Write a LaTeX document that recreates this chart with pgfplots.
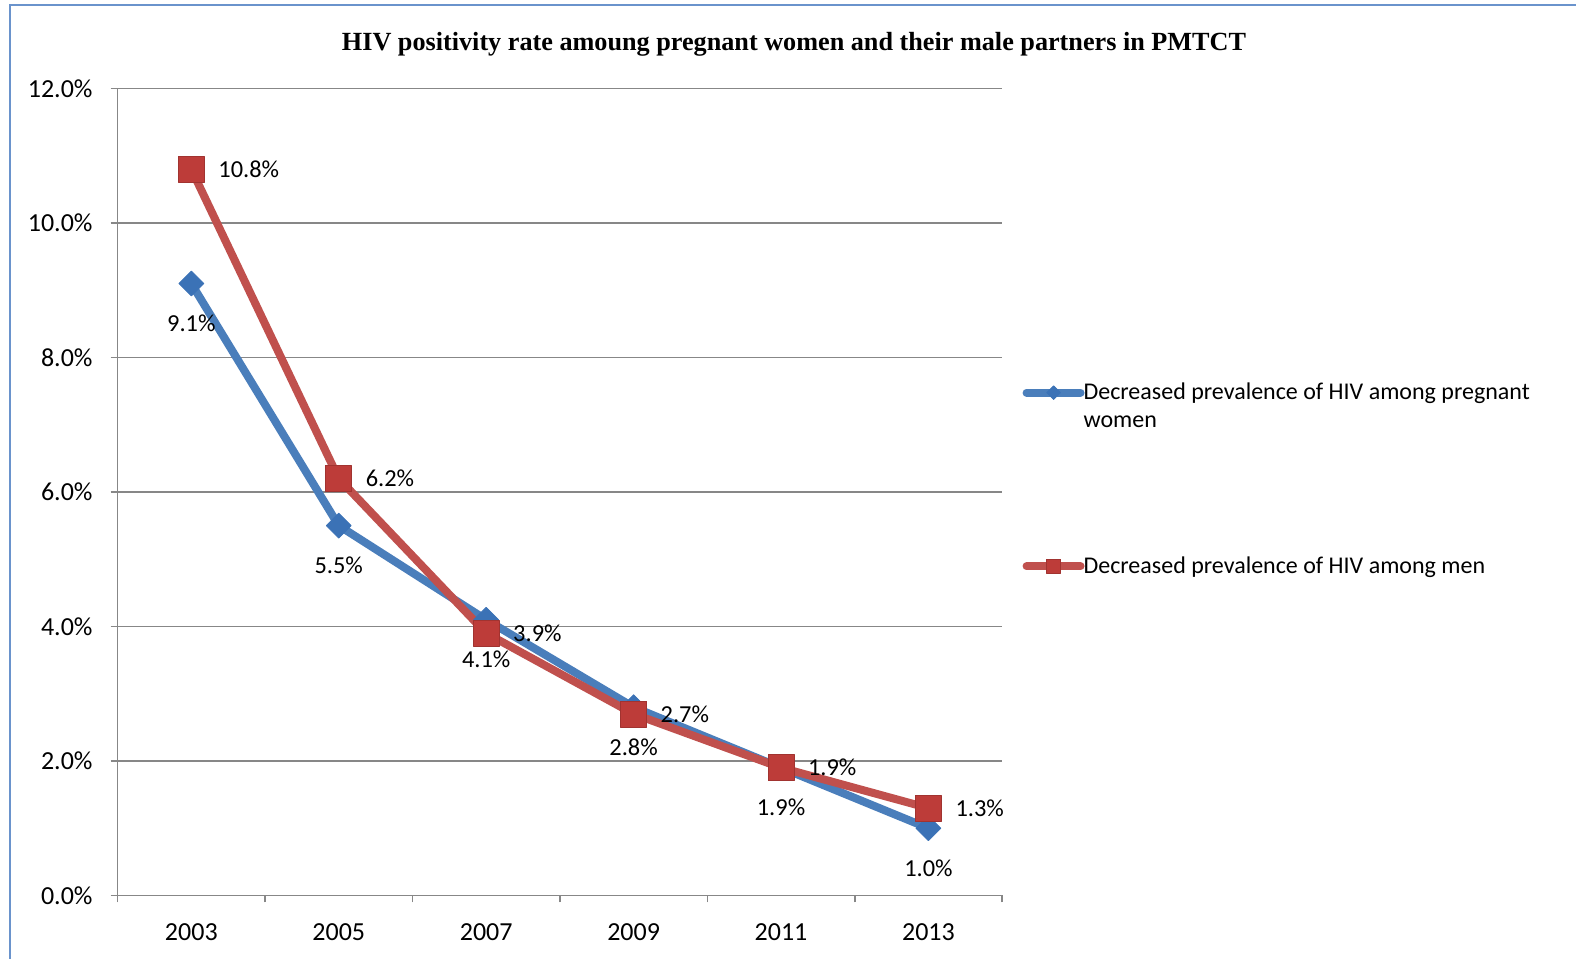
\documentclass[border=0pt]{standalone}
\usepackage{pgfplots}
\pgfplotsset{compat=1.18}
\usepackage{fontspec}
\setmainfont{Carlito}
\newfontfamily\titlefont{Liberation Serif}
\definecolor{frameblue}{HTML}{6A93CC}
\definecolor{lblue}{HTML}{4A7EBB}
\definecolor{mblue}{HTML}{3B72B6}
\definecolor{lred}{HTML}{C0504D}
\definecolor{mred}{HTML}{BD3C39}
\definecolor{axgray}{HTML}{878787}
\pgfplotsset{/pgf/number format/assume math mode=true}
\begin{document}
\begin{tikzpicture}[x=1pt,y=1pt]
\path[use as bounding box] (0,0) rectangle (788,479.5);
\draw[color=frameblue, line width=1.3pt] (5,0) -- (5,477) -- (788,477);
\node[font=\titlefont\bfseries\fontsize{13.1}{15}\selectfont] at (397,457.5) {HIV positivity rate amoung pregnant women and their male partners in PMTCT};
\begin{axis}[
  at={(58.8pt,31.75pt)}, anchor=south west,
  scale only axis, width=442.3pt, height=403.5pt,
  xmin=-0.5, xmax=5.5, ymin=0, ymax=12,
  clip=false,
  axis x line*=bottom, axis y line*=left,
  axis line style={draw=axgray, line width=0.8pt, -},
  tick style={draw=axgray, line width=0.8pt},
  tick align=outside, major tick length=3.5pt,
  xtick={-0.5,0.5,1.5,2.5,3.5,4.5,5.5}, xticklabels={},
  extra x ticks={0,1,2,3,4,5},
  extra x tick labels={2003,2005,2007,2009,2011,2013},
  extra x tick style={tick style={draw=none}, grid=none},
  ytick={0,2,4,6,8,10,12},
  yticklabel={\pgfmathprintnumber[fixed,fixed zerofill,precision=1]{\tick}\%},
  tick label style={font=\fontsize{13}{15}\selectfont},
  yticklabel style={xshift=-5.5pt},
  xticklabel style={yshift=-7pt},
  ymajorgrids, grid style={draw=axgray, line width=0.8pt},
  nodes near coords={\pgfmathprintnumber[fixed,fixed zerofill,precision=1]{\pgfplotspointmeta}\%},
  every node near coord/.append style={font=\fontsize{12.2}{14}\selectfont, text=black},
  legend style={draw=none, fill=none, at={(1.0158,0.6457)}, anchor=north west,
    font=\fontsize{12}{14}\selectfont, row sep=73pt, column sep=-2.5pt,
    nodes={inner sep=2pt}},
  legend cell align=left,
  legend image code/.code={\draw[mark repeat=2, mark phase=2, line cap=round, every mark/.append style={scale=0.55}, #1] plot coordinates {(0pt,0pt) (13.5pt,0pt) (27pt,0pt)};},
]
\addplot[color=lblue, line width=4pt, line join=round,
  mark=square*, mark size=4.4pt,
  mark options={fill=mblue, draw=mblue, line width=0.4pt, rotate=45},
  every node near coord/.append style={anchor=center, yshift=-20pt}]
  coordinates {(0,9.1) (1,5.5) (2,4.1) (3,2.8) (4,1.9) (5,1.0)};
\addlegendentry{\raisebox{0pt}[\height][0pt]{\vtop{\hbox{Decreased prevalence of HIV among pregnant}\hbox{women}}}}
\addplot[color=lred, line width=4pt, line join=round,
  mark=square*, mark size=6.5pt,
  mark options={fill=mred, draw=mred!85!black, line width=0.4pt},
  every node near coord/.append style={anchor=west, xshift=10pt}]
  coordinates {(0,10.8) (1,6.2) (2,3.9) (3,2.7) (4,1.9) (5,1.3)};
\addlegendentry{Decreased prevalence of HIV among men}
\end{axis}
\end{tikzpicture}
\end{document}
